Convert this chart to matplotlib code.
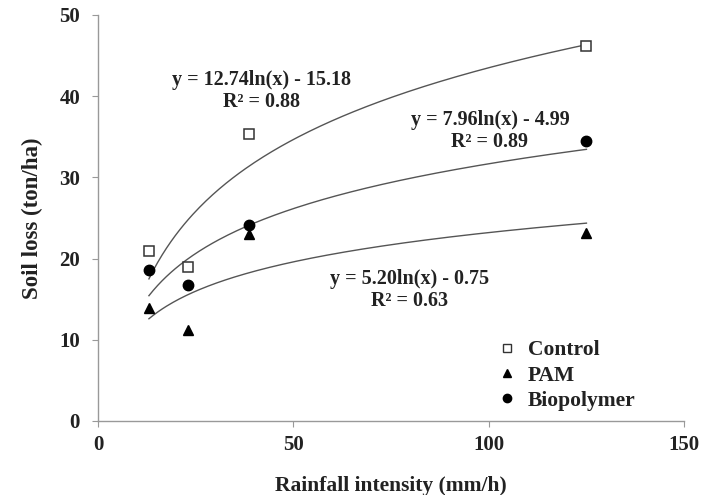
import matplotlib
matplotlib.use("Agg")
import matplotlib.pyplot as plt
import numpy as np
from matplotlib.lines import Line2D

# rainfall intensities (mm/h)
intensity = [13, 23, 38.5, 125]

# soil loss (ton/ha)
control = [20.9, 18.9, 35.3, 46.2]
pam = [13.9, 11.2, 23.0, 23.2]
biopolymer = [18.6, 16.7, 24.1, 34.5]

# logarithmic trendlines y = a*ln(x) + b as printed on the chart
fit_a = [12.74, 7.96, 5.20]
fit_b = [-15.18, -4.99, -0.75]
fit_r2 = [0.88, 0.89, 0.63]

plt.rcParams["font.family"] = ["Liberation Serif", "DejaVu Serif"]
plt.rcParams["font.weight"] = "bold"

fig = plt.figure(figsize=(7.27, 4.95), dpi=100)
ax = fig.add_axes([0.135, 0.1495, 0.806, 0.8205])

line_color = "#555555"
xs = np.linspace(min(intensity), max(intensity), 200)
for a, b in zip(fit_a, fit_b):
    ax.plot(xs, a * np.log(xs) + b, color=line_color, linewidth=1.0, zorder=1)

ax.plot(intensity, control, linestyle="none", marker="s", markersize=7,
        markerfacecolor="white", markeredgecolor="#333333", markeredgewidth=1.1, zorder=3)
ax.plot(intensity, pam, linestyle="none", marker="^", markersize=7.5,
        color="black", zorder=3)
ax.plot(intensity, biopolymer, linestyle="none", marker="o", markersize=7.5,
        color="black", zorder=3)

# equation labels (data coords of the block centre)
labels = [
    (41.9, 40.6, 0),
    (100.3, 35.7, 1),
    (79.7, 16.1, 2),
]
for x, y, i in labels:
    sign = "-" if fit_b[i] < 0 else "+"
    ax.text(x, y, f"y = {fit_a[i]:.2f}ln(x) {sign} {abs(fit_b[i]):.2f}\nR² = {fit_r2[i]:.2f}",
            ha="center", va="center", fontsize=14.5, fontweight="bold",
            linespacing=1.15, color="#222222")

ax.set_xlim(0, 150)
ax.set_ylim(0, 50)
ax.set_xticks([0, 50, 100, 150])
ax.set_yticks([0, 10, 20, 30, 40, 50])
for side in ("top", "right"):
    ax.spines[side].set_visible(False)
for side in ("left", "bottom"):
    ax.spines[side].set_color("#999999")
    ax.spines[side].set_linewidth(1.0)
ax.tick_params(axis="both", direction="out", length=4, color="#999999",
               labelsize=15, labelcolor="#222222")
ax.tick_params(axis="x", pad=6)
ax.tick_params(axis="y", pad=9)
for lab in ax.get_xticklabels() + ax.get_yticklabels():
    lab.set_fontweight("bold")

ax.set_xlabel("Rainfall intensity (mm/h)", fontsize=15.5, fontweight="bold",
              labelpad=15, color="#222222")
ax.set_ylabel("Soil loss (ton/ha)", fontsize=16.5, fontweight="bold",
              labelpad=12, color="#222222")

handles = [
    Line2D([], [], linestyle="none", marker="s", markersize=5.5,
           markerfacecolor="white", markeredgecolor="#333333"),
    Line2D([], [], linestyle="none", marker="^", markersize=6, color="black"),
    Line2D([], [], linestyle="none", marker="o", markersize=6, color="black"),
]
leg = ax.legend(handles, ["Control", "PAM", "Biopolymer"], loc="lower left",
                bbox_to_anchor=(0.653, -0.012), frameon=False, fontsize=15.5,
                handlelength=1.0, handletextpad=0.5, labelspacing=0.24,
                borderpad=0.2)
for t in leg.get_texts():
    t.set_fontweight("bold")
    t.set_color("#222222")

fig.savefig("out.png", dpi=100)
